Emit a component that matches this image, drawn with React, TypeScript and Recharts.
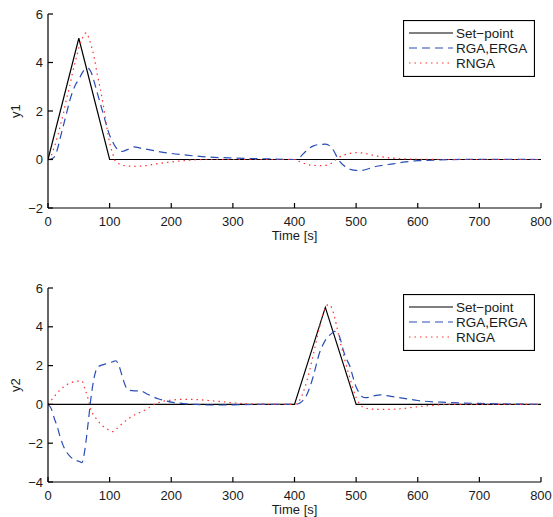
import React from 'react';
import { LineChart, Line, XAxis, YAxis, Legend } from 'recharts';

// ---- data ----
const timeTicks = [0, 100, 200, 300, 400, 500, 600, 700, 800];
const y1Ticks = [-2, 0, 2, 4, 6];
const y2Ticks = [-4, -2, 0, 2, 4, 6];
const seriesNames = ['Set\u2212point', 'RGA,ERGA', 'RNGA'];

// y1 panel
const sp1T = [0, 50, 100, 800];
const sp1Y = [0, 5, 0, 0];

const rga1T = [0, 5, 10, 15, 20, 25, 30, 35, 40, 45, 50, 55, 60, 65, 70, 75, 80, 85, 90, 95, 100, 105, 110, 115, 120, 130, 140, 150, 175, 200, 225, 250, 300, 350, 400, 405, 410, 420, 430, 440, 450, 455, 460, 465, 470, 480, 490, 500, 505, 510, 520, 530, 540, 560, 580, 600, 700, 800];
const rga1Y = [0, 0.02, 0.1, 0.4, 0.9, 1.4, 1.9, 2.4, 2.8, 3.1, 3.3, 3.55, 3.72, 3.76, 3.6, 3.2, 2.75, 2.3, 1.85, 1.4, 1.0, 0.73, 0.5, 0.38, 0.33, 0.42, 0.52, 0.47, 0.35, 0.25, 0.18, 0.12, 0.06, 0.03, 0, 0.0, 0.12, 0.38, 0.55, 0.62, 0.63, 0.6, 0.5, 0.3, 0.05, -0.25, -0.4, -0.45, -0.46, -0.45, -0.38, -0.3, -0.25, -0.18, -0.1, -0.05, 0.01, 0];

const rnga1T = [0, 5, 10, 15, 20, 25, 30, 35, 40, 45, 50, 55, 60, 63, 65, 70, 75, 80, 85, 90, 95, 100, 105, 110, 120, 130, 140, 150, 160, 175, 200, 225, 250, 300, 400, 410, 420, 430, 440, 450, 460, 465, 470, 480, 490, 500, 510, 520, 530, 550, 575, 600, 650, 800];
const rnga1Y = [0, 0.15, 0.5, 0.9, 1.4, 1.9, 2.5, 3.0, 3.6, 4.1, 4.6, 4.95, 5.2, 5.22, 5.1, 4.7, 4.2, 3.5, 2.9, 2.2, 1.4, 0.7, 0.25, -0.1, -0.22, -0.27, -0.28, -0.27, -0.25, -0.18, -0.1, -0.04, 0, 0, 0, -0.1, -0.2, -0.24, -0.25, -0.24, -0.15, -0.05, 0.05, 0.18, 0.25, 0.28, 0.27, 0.22, 0.16, 0.08, 0.03, 0.01, 0, 0];

// y2 panel
const sp2T = [0, 400, 450, 500, 800];
const sp2Y = [0, 0, 5, 0, 0];

const rga2T = [0, 5, 10, 15, 20, 25, 30, 35, 40, 45, 50, 55, 60, 65, 70, 75, 80, 85, 90, 95, 100, 105, 110, 115, 120, 125, 130, 140, 150, 160, 170, 180, 190, 200, 210, 220, 240, 260, 280, 300, 350, 400, 405, 410, 415, 420, 425, 430, 435, 440, 445, 450, 455, 460, 465, 470, 475, 480, 485, 490, 495, 500, 505, 510, 515, 520, 530, 540, 550, 560, 580, 600, 650, 700, 750, 800];
const rga2Y = [0, -0.2, -0.7, -1.15, -1.7, -2.15, -2.45, -2.65, -2.8, -2.88, -2.93, -3.0, -2.3, -1.0, 0.4, 1.4, 1.9, 2.0, 2.05, 2.1, 2.15, 2.2, 2.25, 2.0, 1.5, 1.0, 0.75, 0.7, 0.7, 0.55, 0.4, 0.28, 0.2, 0.12, 0.08, 0.04, 0.0, -0.03, -0.03, -0.02, 0, 0, 0.02, 0.1, 0.25, 0.5, 0.9, 1.4, 2.0, 2.6, 3.0, 3.3, 3.5, 3.65, 3.76, 3.7, 3.3, 2.7, 2.3, 1.95, 1.4, 0.9, 0.6, 0.4, 0.35, 0.36, 0.45, 0.49, 0.45, 0.4, 0.3, 0.2, 0.1, 0.05, 0.02, 0];

const rnga2T = [0, 5, 10, 15, 20, 25, 30, 35, 40, 45, 50, 55, 60, 65, 70, 75, 80, 85, 90, 95, 100, 105, 110, 115, 120, 130, 140, 150, 160, 170, 180, 190, 200, 220, 240, 260, 280, 300, 325, 350, 400, 405, 410, 415, 420, 425, 430, 435, 440, 445, 450, 455, 460, 465, 470, 475, 480, 485, 490, 495, 500, 505, 510, 520, 530, 540, 560, 580, 600, 625, 650, 800];
const rnga2Y = [0, 0.2, 0.4, 0.6, 0.75, 0.9, 1.0, 1.1, 1.15, 1.2, 1.2, 1.2, 0.8, 0.3, -0.3, -0.6, -0.8, -1.0, -1.15, -1.25, -1.35, -1.4, -1.3, -1.15, -1.0, -0.75, -0.55, -0.4, -0.25, -0.05, 0.1, 0.18, 0.22, 0.26, 0.25, 0.2, 0.15, 0.08, 0.03, 0.01, 0, 0.1, 0.3, 0.7, 1.2, 1.8, 2.5, 3.2, 3.9, 4.5, 4.95, 5.15, 5.0, 4.5, 3.8, 3.1, 2.5, 1.9, 1.35, 0.8, 0.35, 0.05, -0.12, -0.22, -0.25, -0.26, -0.25, -0.2, -0.12, -0.05, 0, 0];

// ---- helpers ----
const zip = (t: number[], v: number[]) => t.map((x, i) => ({ t: x, v: v[i] }));

const FONT = '"Liberation Sans", Arial, Helvetica, sans-serif';
const FS = 13;
const LFS = 13.5;
const TXT = '#1a1a1a';
const BLACK = '#000000';
const BLUE = '#2a4db5';
const RED = '#ff3030';
const DASH = '8 5';
const DOT = '1.5 4';

const fmt = (v: number) => String(v).replace('-', '\u2212');

const LegendBox = () => {
  const rows = [
    { name: seriesNames[0], color: BLACK, dash: undefined as string | undefined },
    { name: seriesNames[1], color: BLUE, dash: DASH },
    { name: seriesNames[2], color: RED, dash: DOT },
  ];
  return (
    <svg width={132} height={57} style={{ display: 'block' }}>
      <rect x={0.5} y={0.5} width={131} height={56} fill="#fff" stroke="#000" strokeWidth={1.2} />
      {rows.map((r, i) => (
        <g key={r.name}>
          <line x1={6} x2={50} y1={13 + i * 15} y2={13 + i * 15} stroke={r.color} strokeWidth={1.2} strokeDasharray={r.dash} />
          <text x={53} y={13 + i * 15} dy="0.35em" fontFamily={FONT} fontSize={LFS} fill={TXT}>{r.name}</text>
        </g>
      ))}
    </svg>
  );
};

type PanelProps = {
  top: number;
  yLabel: string;
  yDomain: [number, number];
  yTicks: number[];
  sp: { t: number; v: number }[];
  rga: { t: number; v: number }[];
  rnga: { t: number; v: number }[];
};

const Panel = ({ top, yLabel, yDomain, yTicks, sp, rga, rnga }: PanelProps) => (
  <div style={{ position: 'absolute', left: 0, top, width: 553, height: 260 }}>
    <LineChart width={553} height={260} margin={{ top: 14, right: 12, bottom: 12, left: 0 }}>
      <XAxis
        xAxisId="b"
        dataKey="t"
        type="number"
        domain={[0, 800]}
        ticks={timeTicks}
        allowDataOverflow
        height={40}
        stroke="#000"
        strokeWidth={1.2}
        tickSize={-5}
        tickMargin={14}
        tick={{ fill: TXT, fontSize: FS, fontFamily: FONT }}
        label={{
          content: () => (
            <text x={294.5} y={240} textAnchor="middle" fontFamily={FONT} fontSize={FS} fill={TXT}>Time [s]</text>
          ),
        }}
      />
      <XAxis
        xAxisId="t"
        orientation="top"
        dataKey="t"
        type="number"
        domain={[0, 800]}
        ticks={timeTicks}
        allowDataOverflow
        height={0}
        mirror
        stroke="#000"
        strokeWidth={1.2}
        tickSize={5}
        tick={false}
      />
      <YAxis
        yAxisId="l"
        type="number"
        domain={yDomain}
        ticks={yTicks}
        allowDataOverflow
        width={48}
        stroke="#000"
        strokeWidth={1.2}
        tickSize={-5}
        tickMargin={10}
        tickFormatter={fmt}
        tick={{ fill: TXT, fontSize: FS, fontFamily: FONT }}
        label={{
          content: () => (
            <text x={15.5} y={111} textAnchor="middle" dominantBaseline="central" transform={`rotate(-90 15.5 111)`} fontFamily={FONT} fontSize={FS} fill={TXT}>{yLabel}</text>
          ),
        }}
      />
      <YAxis
        yAxisId="r"
        orientation="right"
        type="number"
        domain={yDomain}
        ticks={yTicks}
        allowDataOverflow
        width={0}
        mirror
        stroke="#000"
        strokeWidth={1.2}
        tickSize={5}
        tick={false}
      />
      <Legend
        layout="vertical"
        align="center"
        verticalAlign="middle"
        wrapperStyle={{ position: 'absolute', left: 403, top: 20, width: 132, height: 57 }}
        content={() => <LegendBox />}
      />
      <Line xAxisId="b" yAxisId="l" data={sp} dataKey="v" name={seriesNames[0]} type="linear" stroke={BLACK} strokeWidth={1.2} dot={false} isAnimationActive={false} />
      <Line xAxisId="b" yAxisId="l" data={rga} dataKey="v" name={seriesNames[1]} type="monotone" stroke={BLUE} strokeWidth={1.2} strokeDasharray={DASH} dot={false} isAnimationActive={false} />
      <Line xAxisId="b" yAxisId="l" data={rnga} dataKey="v" name={seriesNames[2]} type="monotone" stroke={RED} strokeWidth={1.2} strokeDasharray={DOT} dot={false} isAnimationActive={false} />
    </LineChart>
  </div>
);

export default function App() {
  return (
    <div style={{ position: 'fixed', left: 0, top: 0, width: 553, height: 517, overflow: 'hidden', background: '#fff' }}>
      <Panel top={0} yLabel="y1" yDomain={[-2, 6]} yTicks={y1Ticks} sp={zip(sp1T, sp1Y)} rga={zip(rga1T, rga1Y)} rnga={zip(rnga1T, rnga1Y)} />
      <Panel top={274} yLabel="y2" yDomain={[-4, 6]} yTicks={y2Ticks} sp={zip(sp2T, sp2Y)} rga={zip(rga2T, rga2Y)} rnga={zip(rnga2T, rnga2Y)} />
    </div>
  );
}
